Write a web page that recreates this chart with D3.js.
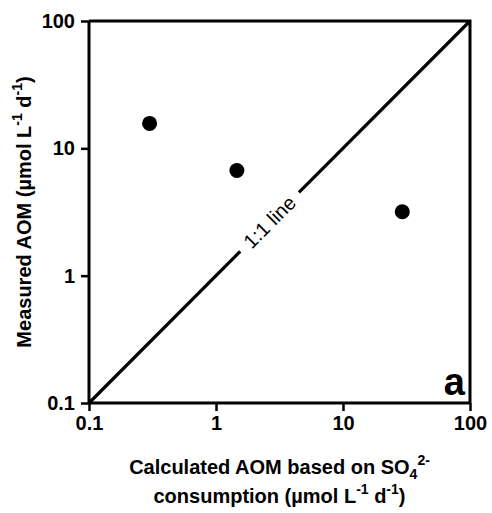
<!DOCTYPE html>
<html>
<head>
<meta charset="utf-8">
<script src="https://cdn.jsdelivr.net/npm/d3@7"></script>
<style>
  html, body { margin: 0; padding: 0; background: #fff; }
  svg { display: block; font-family: "Liberation Sans", Arial, sans-serif; }
  .tick text { font-weight: bold; }
</style>
</head>
<body>
<svg id="chart" width="492" height="513"></svg>
<script>
// Calculated (from sulfate consumption) vs measured AOM rates, µmol L-1 d-1
const calculatedAOM = [0.3, 1.46, 29.3];
const measuredAOM = [15.7, 6.7, 3.18];
const tickValues = [0.1, 1, 10, 100];
const tickLabels = ["0.1", "1", "10", "100"];
const oneToOne = [0.1, 100];

const svg = d3.select("#chart");
const margin = { left: 89, right: 22, top: 21, bottom: 110 };
const W = 492, H = 513;

const x = d3.scaleLog().domain([0.1, 100]).range([margin.left, W - margin.right]);
const y = d3.scaleLog().domain([0.1, 100]).range([H - margin.bottom, margin.top]);
const fmt = d => tickLabels[tickValues.indexOf(d)];
const cx = (x(0.1) + x(100)) / 2, cy = (y(0.1) + y(100)) / 2;

// frame (top and right)
svg.append("path")
  .attr("d", `M${x(0.1)},${y(100)}H${x(100)}V${y(0.1)}`)
  .attr("fill", "none").attr("stroke", "#000").attr("stroke-width", 3);

// 1:1 line, with a gap for its label
const lineGen = d3.line().x(d => x(d)).y(d => y(d));
const gapLo = 1.55, gapHi = 4.5;
svg.append("path").datum([oneToOne[0], gapLo]).attr("d", lineGen)
  .attr("stroke", "#000").attr("stroke-width", 3.2).attr("fill", "none");
svg.append("path").datum([gapHi, oneToOne[1]]).attr("d", lineGen)
  .attr("stroke", "#000").attr("stroke-width", 3.2).attr("fill", "none");
const mid = Math.sqrt(gapLo * gapHi);
svg.append("text")
  .attr("transform", `translate(${x(mid)},${y(mid)}) rotate(-45)`)
  .attr("text-anchor", "middle").attr("dy", "0.35em")
  .attr("font-size", 20).text("1:1 line");

// axes
const xAxis = svg.append("g").attr("transform", `translate(0,${y(0.1)})`)
  .call(d3.axisBottom(x).tickValues(tickValues).tickFormat(fmt).tickSize(8).tickPadding(5));
const yAxis = svg.append("g").attr("transform", `translate(${x(0.1)},0)`)
  .call(d3.axisLeft(y).tickValues(tickValues).tickFormat(fmt).tickSize(8).tickPadding(6));
[xAxis, yAxis].forEach(g => {
  g.select(".domain").attr("stroke-width", 3).attr("d",
    g === xAxis ? `M${x(0.1)},0H${x(100)}` : `M0,${y(0.1)}V${y(100)}`);
  g.selectAll(".tick line").attr("stroke-width", 2.5);
  g.selectAll(".tick text").attr("font-size", 20).attr("fill", "#000");
});

// data points
svg.append("g").selectAll("circle")
  .data(calculatedAOM.map((c, i) => [c, measuredAOM[i]]))
  .join("circle")
  .attr("cx", d => x(d[0])).attr("cy", d => y(d[1])).attr("r", 7.5).attr("fill", "#000");

// panel letter
svg.append("text").attr("x", x(100) - 5).attr("y", y(0.1) - 8)
  .attr("text-anchor", "end").attr("font-size", 38).attr("font-weight", "bold").text("a");

// axis titles
const xt = svg.append("text").attr("text-anchor", "middle")
  .attr("font-size", 20).attr("font-weight", "bold").attr("x", cx).attr("y", 474);
xt.append("tspan").text("Calculated AOM based on SO");
xt.append("tspan").attr("font-size", 14).attr("dy", 5).text("4");
xt.append("tspan").attr("font-size", 14).attr("dy", -14).text("2-");
const xt2 = svg.append("text").attr("text-anchor", "middle")
  .attr("font-size", 20).attr("font-weight", "bold").attr("x", cx).attr("y", 503);
xt2.append("tspan").text("consumption (µmol L");
xt2.append("tspan").attr("font-size", 14).attr("dy", -9).text("-1");
xt2.append("tspan").attr("dy", 9).text(" d");
xt2.append("tspan").attr("font-size", 14).attr("dy", -9).text("-1");
xt2.append("tspan").attr("dy", 9).text(")");

const yt = svg.append("text").attr("text-anchor", "middle")
  .attr("font-size", 20).attr("font-weight", "bold")
  .attr("transform", `translate(31,${cy}) rotate(-90)`);
yt.append("tspan").text("Measured AOM (µmol L");
yt.append("tspan").attr("font-size", 14).attr("dy", -9).text("-1");
yt.append("tspan").attr("dy", 9).text(" d");
yt.append("tspan").attr("font-size", 14).attr("dy", -9).text("-1");
yt.append("tspan").attr("dy", 9).text(")");
</script>
</body>
</html>
